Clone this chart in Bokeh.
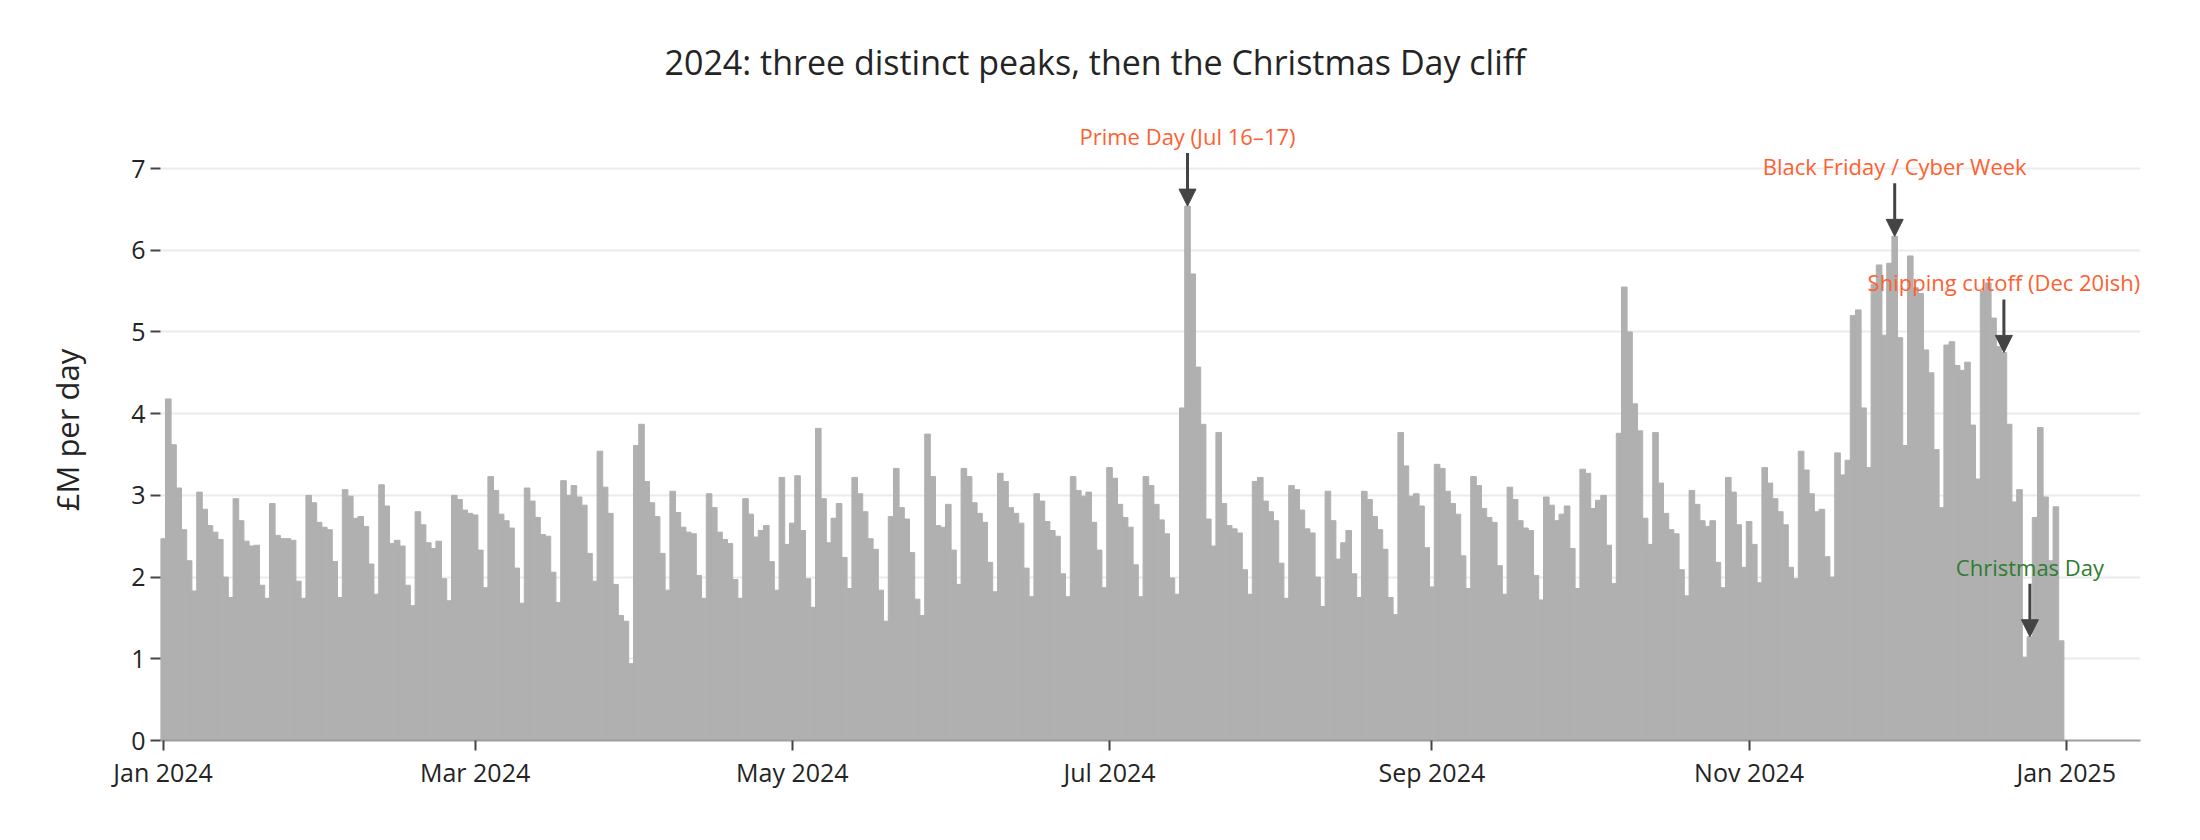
import pandas as pd
from bokeh.plotting import figure
from bokeh.models import ColumnDataSource, Range1d, FixedTicker, Label, Arrow, NormalHead
from bokeh.embed import file_html
from bokeh.resources import INLINE

# ---- data: daily revenue, £M per day, 2024 (one list per month) ----
jan = [2.47, 4.18, 3.62, 3.09, 2.58, 2.20, 1.83, 3.04, 2.83, 2.63, 2.55, 2.46, 2.00, 1.75,
       2.96, 2.69, 2.44, 2.38, 2.39, 1.90, 1.74, 2.90, 2.51, 2.47, 2.47, 2.45, 1.95, 1.74,
       3.00, 2.91, 2.67]
feb = [2.61, 2.58, 2.19, 1.75, 3.07, 2.99, 2.72, 2.74, 2.62, 2.16, 1.79, 3.13, 2.87, 2.41,
       2.45, 2.38, 1.90, 1.65, 2.80, 2.64, 2.42, 2.35, 2.44, 1.98, 1.71, 3.00, 2.95, 2.82,
       2.78]
mar = [2.76, 2.33, 1.87, 3.23, 3.06, 2.77, 2.69, 2.60, 2.11, 1.68, 3.09, 2.93, 2.73, 2.52,
       2.50, 2.06, 1.69, 3.18, 3.00, 3.12, 2.98, 2.88, 2.29, 1.95, 3.54, 3.10, 2.78, 1.91,
       1.53, 1.46, 0.94]
apr = [3.61, 3.87, 3.17, 2.91, 2.74, 2.29, 1.84, 3.05, 2.79, 2.61, 2.55, 2.53, 2.02, 1.74,
       3.02, 2.85, 2.55, 2.46, 2.41, 1.97, 1.74, 2.96, 2.77, 2.49, 2.57, 2.63, 2.19, 1.84,
       3.22, 2.40]
may = [2.66, 3.24, 2.57, 1.98, 1.63, 3.82, 2.96, 2.42, 2.72, 2.90, 2.24, 1.86, 3.22, 3.02,
       2.80, 2.47, 2.34, 1.84, 1.46, 2.74, 3.33, 2.85, 2.71, 2.30, 1.73, 1.53, 3.75, 3.23,
       2.63, 2.61, 2.89]
jun = [2.33, 1.91, 3.33, 3.23, 2.91, 2.78, 2.67, 2.18, 1.82, 3.27, 3.17, 2.85, 2.78, 2.66,
       2.11, 1.76, 3.02, 2.93, 2.68, 2.57, 2.50, 2.04, 1.76, 3.23, 3.06, 2.99, 3.04, 2.67,
       2.33, 1.87]
jul = [3.34, 3.21, 2.89, 2.73, 2.61, 2.15, 1.76, 3.23, 3.12, 2.89, 2.70, 2.53, 1.99, 1.79,
       4.07, 6.54, 5.71, 4.57, 3.87, 2.71, 2.38, 3.77, 2.90, 2.63, 2.59, 2.54, 2.09, 1.79,
       3.17, 3.22, 2.93]
aug = [2.80, 2.69, 2.17, 1.74, 3.12, 3.07, 2.82, 2.59, 2.54, 2.00, 1.64, 3.05, 2.69, 2.22,
       2.42, 2.57, 2.04, 1.75, 3.05, 2.95, 2.74, 2.58, 2.34, 1.75, 1.54, 3.77, 3.36, 2.99,
       3.02, 2.87, 2.36]
sep = [1.88, 3.38, 3.33, 3.05, 2.90, 2.77, 2.26, 1.86, 3.23, 3.12, 2.84, 2.73, 2.67, 2.14,
       1.79, 3.10, 2.95, 2.69, 2.60, 2.57, 2.02, 1.72, 2.98, 2.88, 2.69, 2.77, 2.87, 2.35,
       1.86, 3.32]
oct_ = [3.27, 2.84, 2.94, 3.00, 2.39, 1.92, 3.76, 5.55, 5.00, 4.12, 3.79, 2.72, 2.40, 3.77,
        3.15, 2.78, 2.58, 2.53, 2.09, 1.77, 3.06, 2.89, 2.69, 2.62, 2.69, 2.18, 1.87, 3.22,
        3.04, 2.64, 2.12]
nov = [2.68, 2.40, 1.93, 3.34, 3.15, 2.96, 2.80, 2.64, 2.12, 1.98, 3.54, 3.31, 3.02, 2.80,
       2.83, 2.25, 2.00, 3.52, 3.25, 3.43, 5.20, 5.27, 4.07, 3.34, 5.58, 5.82, 4.96, 5.84,
       6.17, 4.93]
dec = [3.61, 5.93, 5.54, 5.47, 4.78, 4.50, 3.56, 2.85, 4.84, 4.88, 4.59, 4.53, 4.63, 3.86,
       3.20, 5.50, 5.60, 5.17, 4.82, 4.75, 3.87, 2.92, 3.07, 1.02, 1.27, 2.73, 3.83, 2.98,
       2.20, 2.86, 1.22]

start_date = "2024-01-01"
tick_dates = ["2024-01-01", "2024-03-01", "2024-05-01", "2024-07-01",
              "2024-09-01", "2024-11-01", "2025-01-01"]
tick_labels = ["Jan 2024", "Mar 2024", "May 2024", "Jul 2024", "Sep 2024", "Nov 2024", "Jan 2025"]

ann_dates = ["2024-07-16", "2024-11-29", "2024-12-20", "2024-12-25"]
ann_texts = ["Prime Day (Jul 16\u201317)", "Black Friday / Cyber Week",
             "Shipping cutoff (Dec 20ish)", "Christmas Day"]
ann_colors = ["#ff6030", "#ff6030", "#ff6030", "#2e7d32"]

title_text = "2024: three distinct peaks, then the Christmas Day cliff"
y_label = "\u00a3M per day"

# ---- build ----
values = jan + feb + mar + apr + may + jun + jul + aug + sep + oct_ + nov + dec
dates = pd.date_range(start_date, periods=len(values), freq="D")
src = ColumnDataSource(dict(date=dates, value=values))

DAY_MS = 86400000.0
def ms(ts):
    return pd.Timestamp(ts).value / 1e6

Y_MAX = 7.6
FRAME_H = 621
PPU = FRAME_H / Y_MAX          # pixels per £M
FRAME_W = 1980
PPD = 5.2                      # pixels per day

x_start = ms(start_date) - 0.5 * DAY_MS
x_end = x_start + FRAME_W / PPD * DAY_MS

p = figure(width=2184, height=824, output_backend="svg", toolbar_location=None,
           x_axis_type="datetime",
           x_range=Range1d(x_start, x_end), y_range=Range1d(0, Y_MAX),
           min_border_left=160, min_border_right=44, min_border_top=119, min_border_bottom=84)
p.outline_line_color = None
p.background_fill_color = "white"

p.vbar(x="date", top="value", width=DAY_MS * 1.08, source=src,
       fill_color="#b0b0b0", line_color="#b0b0b0", line_width=1)

# title
p.title.text = title_text
p.title.align = "left"
p.title.offset = 504
p.title.standoff = 70
p.title.text_font = "Open Sans"
p.title.text_font_size = "34px"
p.title.text_font_style = "normal"
p.title.text_color = "#242424"

# grid
p.xgrid.visible = False
p.ygrid.grid_line_color = "#ebebeb"
p.ygrid.grid_line_width = 2

# y axis
yt = FixedTicker(ticks=list(range(0, 8)))
p.yaxis.ticker = yt
p.ygrid.ticker = yt
p.yaxis.axis_line_color = None
p.yaxis.major_tick_in = 0
p.yaxis.major_tick_out = 10
p.yaxis.major_tick_line_color = "#444444"
p.yaxis.major_tick_line_width = 2
p.yaxis.minor_tick_line_color = None
p.yaxis.major_label_text_font = "Open Sans"
p.yaxis.major_label_text_font_size = "25px"
p.yaxis.major_label_text_color = "#242424"
p.yaxis.major_label_standoff = 5
p.yaxis.axis_label = y_label
p.yaxis.axis_label_text_font = "Open Sans"
p.yaxis.axis_label_text_font_size = "31px"
p.yaxis.axis_label_text_font_style = "normal"
p.yaxis.axis_label_text_color = "#242424"
p.yaxis.axis_label_standoff = 40

# x axis
tick_ms = [ms(d) for d in tick_dates]
p.xaxis.ticker = FixedTicker(ticks=tick_ms)
p.xaxis.major_label_overrides = {t: l for t, l in zip(tick_ms, tick_labels)}
p.xaxis.axis_line_color = "#9e9e9e"
p.xaxis.axis_line_width = 2
p.xaxis.major_tick_in = 0
p.xaxis.major_tick_out = 10
p.xaxis.major_tick_line_color = "#444444"
p.xaxis.major_tick_line_width = 2
p.xaxis.minor_tick_line_color = None
p.xaxis.major_label_text_font = "Open Sans"
p.xaxis.major_label_text_font_size = "25px"
p.xaxis.major_label_text_color = "#242424"
p.xaxis.major_label_standoff = 4

# annotations
lookup = dict(zip(dates.strftime("%Y-%m-%d"), values))
TAIL_PX, TEXT_PX = 53, 70
for d, t, c in zip(ann_dates, ann_texts, ann_colors):
    v = lookup[d]
    x = ms(d)
    p.add_layout(Arrow(x_start=x, y_start=v + TAIL_PX / PPU, x_end=x, y_end=v,
                       line_color="#444444", line_width=3,
                       end=NormalHead(size=17, fill_color="#444444", line_color="#444444",
                                      line_width=1)))
    p.add_layout(Label(x=x, y=v + TEXT_PX / PPU, text=t, text_align="center",
                       text_baseline="middle", text_font="Open Sans",
                       text_font_size="22px", text_color=c))

open("out.html", "w").write(file_html(p, INLINE))
